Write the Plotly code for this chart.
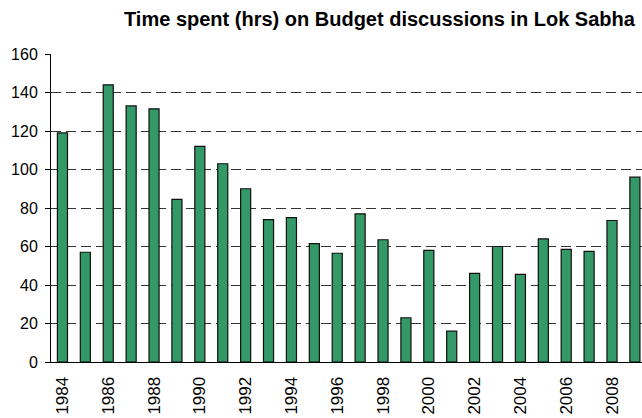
import plotly.graph_objects as go

# Hours spent on Budget discussions in the Lok Sabha, by year
years = list(range(1984, 2010))
hours = [119, 57, 144, 133, 131.5, 84.5, 112, 103, 90, 74, 75, 61.5, 56.5,
         77, 63.5, 23, 58, 16, 46, 60, 45.5, 64, 58.5, 57.5, 73.5, 96]
tick_years = list(range(1984, 2009, 2))
y_ticks = list(range(0, 161, 20))

fig = go.Figure(
    go.Bar(
        x=years,
        y=hours,
        width=0.44,
        marker=dict(color="#339966", line=dict(color="#111111", width=1.2)),
    )
)

fig.update_layout(
    width=642,
    height=418,
    margin=dict(l=51, r=0, t=54, b=56),
    paper_bgcolor="white",
    plot_bgcolor="white",
    showlegend=False,
    font=dict(family="Liberation Sans, Arial, sans-serif", color="black"),
    title=dict(
        text="<b>Time spent (hrs) on Budget discussions in Lok Sabha</b>",
        x=0.591,
        xref="container",
        xanchor="center",
        y=0.955,
        yref="container",
        yanchor="middle",
        font=dict(size=20, color="black"),
    ),
)

fig.update_xaxes(
    range=[1983.5, 2009.31],
    tickmode="array",
    tickvals=tick_years,
    ticktext=[str(y) for y in tick_years],
    tickangle=-90,
    tickfont=dict(size=17),
    ticklabelstandoff=7,
    showline=True,
    linecolor="black",
    linewidth=1,
    showgrid=False,
    ticks="",
    zeroline=False,
)

fig.update_yaxes(
    range=[0, 160],
    tickmode="array",
    tickvals=y_ticks,
    tickfont=dict(size=16),
    ticklabelstandoff=4,
    showline=True,
    linecolor="black",
    linewidth=1,
    ticks="outside",
    ticklen=5,
    tickcolor="black",
    showgrid=True,
    gridcolor="#333333",
    gridwidth=1,
    griddash="10px,5px",
    zeroline=False,
)

fig.write_html("out.html")
